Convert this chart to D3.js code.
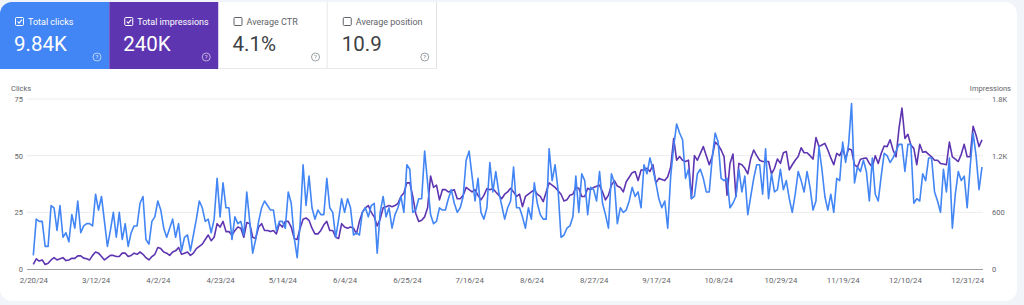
<!DOCTYPE html>
<html>
<head>
<meta charset="utf-8">
<script src="https://cdn.jsdelivr.net/npm/d3@7"></script>
<style>
  html, body { margin: 0; padding: 0; background: #f1f4f9; }
  svg { display: block; font-family: Roboto, "Noto Sans", sans-serif; }
</style>
</head>
<body>
<svg id="chart" width="1024" height="305"></svg>
<script>
// metric tiles
const metricNames = ["Total clicks", "Total impressions", "Average CTR", "Average position"];
const metricValues = ["9.84K", "240K", "4.1%", "10.9"];
const metricChecked = [true, true, false, false];
const metricColors = ["#4285f4", "#5e35b1", "#ffffff", "#ffffff"];

// daily series, 2/20/24 .. 1/5/25
const startDate = "2024-02-20";
const clicks = [
  6, 22, 21, 21, 10, 10, 28, 27, 17, 28,
  14, 16, 12, 24, 18, 30, 16, 19, 20, 20,
  19, 33, 26, 32, 21, 10, 17, 25, 14, 25,
  13, 20, 10, 16, 19, 19, 29, 32, 13, 11,
  21, 23, 30, 26, 18, 14, 18, 22, 14, 20,
  8, 14, 15, 8, 15, 22, 30, 27, 21, 22,
  16, 22, 40, 23, 38, 27, 27, 13, 23, 20,
  21, 15, 34, 21, 7, 13, 21, 27, 30, 28,
  26, 26, 17, 21, 21, 18, 34, 29, 14, 5,
  20, 46, 28, 41, 27, 22, 26, 24, 24, 40,
  27, 25, 14, 22, 31, 25, 31, 27, 15, 16,
  15, 25, 27, 23, 28, 29, 7, 25, 32, 23,
  27, 18, 24, 27, 32, 25, 46, 44, 25, 26,
  31, 31, 52, 38, 24, 20, 21, 27, 26, 26,
  31, 35, 29, 25, 27, 32, 48, 52, 41, 30,
  40, 25, 22, 27, 47, 34, 43, 34, 28, 22,
  27, 30, 45, 27, 27, 23, 18, 27, 22, 38,
  29, 24, 22, 22, 53, 39, 46, 35, 14, 15,
  18, 19, 23, 41, 25, 42, 39, 24, 36, 35,
  30, 43, 29, 24, 18, 42, 38, 20, 27, 25,
  26, 30, 36, 32, 34, 27, 46, 42, 49, 44,
  38, 31, 27, 30, 18, 41, 54, 64, 60, 57,
  40, 44, 31, 32, 42, 44, 40, 34, 34, 49,
  60, 56, 40, 39, 40, 27, 29, 32, 44, 34,
  41, 24, 32, 40, 46, 46, 33, 53, 31, 42,
  34, 35, 44, 35, 39, 31, 25, 33, 43, 39,
  34, 43, 36, 26, 30, 54, 44, 32, 26, 33,
  25, 40, 39, 56, 47, 55, 73, 38, 45, 43,
  48, 43, 30, 49, 33, 30, 41, 51, 50, 47,
  49, 52, 55, 55, 43, 55, 55, 29, 31, 30,
  42, 39, 49, 49, 34, 30, 25, 44, 34, 49,
  18, 33, 43, 39, 41, 27, 45, 60, 50, 35,
  45
];
const impressions = [
  48, 108, 84, 96, 48, 60, 96, 120, 96, 108,
  120, 89, 96, 113, 113, 139, 139, 115, 108, 96,
  144, 180, 168, 132, 96, 120, 144, 144, 132, 132,
  168, 168, 132, 144, 168, 156, 180, 156, 120, 96,
  132, 156, 228, 216, 180, 168, 144, 180, 192, 228,
  156, 168, 180, 144, 168, 216, 240, 264, 312, 360,
  300, 336, 480, 444, 504, 396, 396, 360, 408, 444,
  432, 336, 492, 480, 336, 324, 444, 480, 408, 408,
  396, 408, 372, 480, 444, 504, 504, 444, 324, 312,
  432, 528, 540, 516, 432, 372, 372, 408, 468, 504,
  408, 408, 336, 324, 480, 444, 432, 444, 432, 372,
  504, 600, 648, 672, 600, 552, 456, 528, 648, 660,
  672, 660, 672, 696, 768, 804, 912, 912, 768, 588,
  504, 516, 552, 648, 984, 864, 888, 732, 840, 840,
  816, 828, 840, 744, 744, 780, 864, 840, 816, 840,
  780, 732, 780, 852, 840, 852, 816, 782, 744, 792,
  816, 854, 816, 768, 792, 660, 768, 792, 816, 840,
  792, 768, 713, 816, 912, 888, 864, 828, 792, 720,
  732, 782, 792, 864, 854, 768, 768, 854, 840, 864,
  876, 888, 816, 732, 782, 888, 936, 878, 864, 816,
  924, 972, 1020, 1032, 936, 1049, 1049, 1066, 1032, 1104,
  912, 960, 948, 936, 977, 1080, 1382, 1152, 1190, 1152,
  1138, 1152, 744, 1200, 1152, 1224, 1296, 1200, 1104, 1190,
  1344, 1313, 1260, 1190, 782, 1118, 1217, 768, 1118, 1104,
  1066, 1008, 1171, 1260, 1200, 1152, 1138, 1138, 1138, 1008,
  1066, 1164, 1118, 1231, 1243, 1049, 1104, 1152, 1190, 1284,
  1231, 1231, 1200, 1164, 1392, 1296, 1313, 1330, 1260, 1176,
  1104, 1224, 1200, 1272, 1171, 1272, 1260, 1102, 1080, 1162,
  1171, 1176, 1118, 1080, 1200, 1118, 1224, 1303, 1296, 1368,
  1260, 1188, 1488, 1704, 1382, 1426, 1313, 1277, 1104, 1320,
  1236, 1243, 1214, 1188, 1152, 1152, 1118, 1111, 1104, 1344,
  1188, 1164, 1138, 1214, 1320, 1188, 1188, 1512, 1416, 1296,
  1368
];

// axes
const clickTicks = [0, 25, 50, 75];
const imprTicks = [0, 600, 1200, 1800];
const imprTickLabels = ["0", "600", "1.2K", "1.8K"];
const xTickDates = ["2024-02-20", "2024-03-12", "2024-04-02", "2024-04-23", "2024-05-14",
  "2024-06-04", "2024-06-25", "2024-07-16", "2024-08-06", "2024-08-27", "2024-09-17",
  "2024-10-08", "2024-10-29", "2024-11-19", "2024-12-10", "2024-12-31"];

const svg = d3.select("#chart");
const parseDate = d3.utcParse("%Y-%m-%d");
const day0 = parseDate(startDate);
const dates = clicks.map((_, i) => d3.utcDay.offset(day0, i));

// card
svg.append("rect")
    .attr("x", 0).attr("y", 2)
    .attr("width", 1017).attr("height", 299)
    .attr("rx", 12)
    .attr("fill", "#ffffff");

// tiles
const tileX = d3.scaleBand().domain(d3.range(metricNames.length)).range([0, 437]);
const tiles = svg.append("g");
metricNames.forEach((name, i) => {
    const x0 = tileX(i);
    const w = tileX.bandwidth();
    const filled = metricColors[i] !== "#ffffff";
    const g = tiles.append("g").attr("transform", `translate(${x0},2)`);
    if (i === 0) {
        g.append("path")
            .attr("d", `M0,12 A12,12 0 0 1 12,0 L${w},0 L${w},67 L0,67 Z`)
            .attr("fill", metricColors[i]);
    } else {
        g.append("rect").attr("width", w).attr("height", 67).attr("fill", metricColors[i]);
    }
    if (!filled) {
        g.append("line").attr("x1", w - 0.5).attr("x2", w - 0.5).attr("y1", 0).attr("y2", 67)
            .attr("stroke", "#e3e3e3");
        g.append("line").attr("x1", 0).attr("x2", w).attr("y1", 66.5).attr("y2", 66.5)
            .attr("stroke", "#e8e8e8");
    }
    const fg = filled ? "#ffffff" : "#5f6368";
    // checkbox
    g.append("rect").attr("x", 15.5).attr("y", 15.5).attr("width", 8).attr("height", 8)
        .attr("rx", 1).attr("fill", "none").attr("stroke", fg).attr("stroke-width", 1);
    if (metricChecked[i]) {
        g.append("path").attr("d", "M17.5,19.5 L19,21.2 L22,17.6")
            .attr("fill", "none").attr("stroke", fg).attr("stroke-width", 1.1);
    }
    g.append("text").attr("x", 28).attr("y", 23)
        .attr("font-size", 9).attr("fill", fg).text(name);
    g.append("text").attr("x", 14).attr("y", 49)
        .attr("font-size", 20.5).attr("fill", filled ? "#ffffff" : "#3c4043").text(metricValues[i]);
    // help icon
    g.append("circle").attr("cx", 97).attr("cy", 55).attr("r", 4)
        .attr("fill", "none").attr("stroke", filled ? "rgba(255,255,255,0.75)" : "#80868b").attr("stroke-width", 0.8);
    g.append("text").attr("x", 97).attr("y", 57.3).attr("text-anchor", "middle")
        .attr("font-size", 6).attr("fill", filled ? "rgba(255,255,255,0.85)" : "#80868b").text("?");
});

// scales
const x = d3.scaleUtc()
    .domain([day0, dates[dates.length - 1]])
    .range([33.3, 982]);
const yClicks = d3.scaleLinear().domain([0, 75]).range([269, 99]);
const yImpr = d3.scaleLinear().domain([0, 1800]).range([269, 99]);

// gridlines
svg.append("g")
    .selectAll("line")
    .data(clickTicks.slice(1))
    .join("line")
    .attr("x1", 27).attr("x2", 983)
    .attr("y1", d => yClicks(d)).attr("y2", d => yClicks(d))
    .attr("stroke", "#ececec");

// baseline
svg.append("line")
    .attr("x1", 27).attr("x2", 983)
    .attr("y1", yClicks(0) + 0.5).attr("y2", yClicks(0) + 0.5)
    .attr("stroke", "#9e9e9e");

// left axis
const leftAxis = svg.append("g")
    .attr("transform", "translate(23,0)")
    .call(d3.axisLeft(yClicks).tickValues(clickTicks).tickSize(0).tickPadding(0));
leftAxis.select(".domain").remove();
leftAxis.selectAll("text").attr("font-size", 7.5).attr("fill", "#5f6368").attr("font-family", "Roboto");

// right axis
const rightAxis = svg.append("g")
    .attr("transform", "translate(992,0)")
    .call(d3.axisRight(yImpr).tickValues(imprTicks).tickSize(0).tickPadding(0)
        .tickFormat((d, i) => imprTickLabels[i]));
rightAxis.select(".domain").remove();
rightAxis.selectAll("text").attr("font-size", 7.5).attr("fill", "#5f6368").attr("font-family", "Roboto");

// axis titles
svg.append("text").attr("x", 11).attr("y", 91)
    .attr("font-size", 7.5).attr("fill", "#5f6368").text("Clicks");
svg.append("text").attr("x", 1011).attr("y", 91).attr("text-anchor", "end")
    .attr("font-size", 7.5).attr("fill", "#5f6368").text("Impressions");

// bottom axis
const bottomAxis = svg.append("g")
    .attr("transform", "translate(0,277)")
    .call(d3.axisBottom(x)
        .tickValues(xTickDates.map(parseDate))
        .tickSize(0).tickPadding(0)
        .tickFormat(d3.utcFormat("%-m/%-d/%y")));
bottomAxis.select(".domain").remove();
bottomAxis.selectAll("text").attr("font-size", 7.8).attr("fill", "#5f6368")
    .attr("font-family", "Roboto");

// lines
const imprLine = d3.line()
    .x((d, i) => x(dates[i]))
    .y(d => yImpr(d));
const clickLine = d3.line()
    .x((d, i) => x(dates[i]))
    .y(d => yClicks(d));

svg.append("path")
    .datum(impressions)
    .attr("d", imprLine)
    .attr("fill", "none")
    .attr("stroke", "#5e35b1")
    .attr("stroke-width", 1.6)
    .attr("stroke-linejoin", "round");

svg.append("path")
    .datum(clicks)
    .attr("d", clickLine)
    .attr("fill", "none")
    .attr("stroke", "#4285f4")
    .attr("stroke-width", 1.6)
    .attr("stroke-linejoin", "round");
</script>
</body>
</html>
